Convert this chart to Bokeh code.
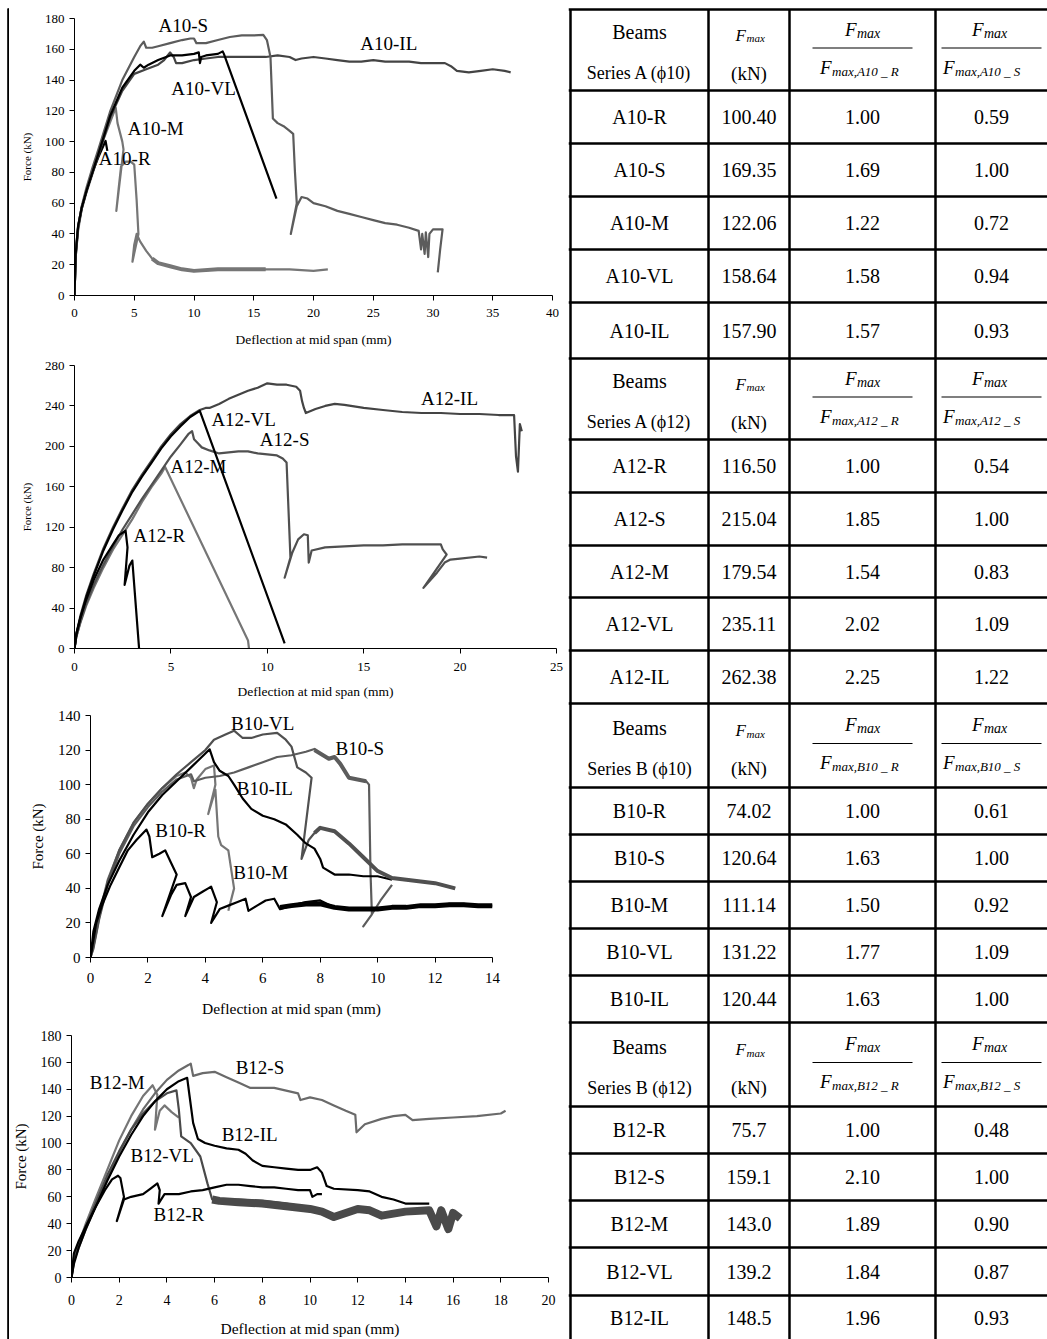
from bokeh.plotting import figure
from bokeh.layouts import row, column
from bokeh.models import Range1d, FixedTicker, Label, Spacer
from bokeh.embed import file_html
from bokeh.resources import INLINE
from bokeh.core.properties import value

FONT = "Liberation Serif"
BLACK = "#000000"
DARK = "#444444"
MID = "#5c5c5c"
LIGHT = "#767676"

# ---------------- chart data (deflection mm, force kN) ----------------
# A10 series
a10_r_x = [0, 0.1, 0.3, 0.6, 1.0, 1.5, 2.0, 2.4, 2.6, 2.75]
a10_r_y = [0, 28, 45, 57, 68, 80, 90, 97, 100.4, 94]
a10_m_x = [0, 0.1, 0.3, 0.6, 1.0, 1.5, 2.0, 2.5, 3.0, 3.3, 3.45, 3.6, 4.0, 4.1, 3.5, 3.7, 3.9, 4.3, 4.7, 5.0, 5.2, 5.35, 4.85, 5.0, 5.2, 5.5, 6.0, 6.5, 7.0, 8.0, 9.0, 10.0, 12.0, 14.0, 16.0, 18.0, 20.0, 21.2]
a10_m_y = [0, 25, 42, 56, 68, 80, 92, 103, 113, 119, 122.06, 112, 100, 95, 55, 70, 84, 87, 87, 85, 62, 40, 22, 33, 40, 35, 29, 24, 21, 19, 17, 16, 17, 17, 17, 17, 16, 17]
a10_m_band_x = [6.5, 7.0, 8.0, 9.0, 10.0, 12.0, 14.0, 16.0]
a10_m_band_y = [24, 21, 19, 17, 16, 17, 17, 17]
a10_s_x = [0, 0.1, 0.3, 0.6, 1.0, 1.5, 2.0, 3.0, 4.0, 5.0, 5.5, 5.8, 6.0, 6.5, 7.0, 8.0, 9.0, 9.7, 10.0, 10.2, 11.0, 12.0, 13.0, 14.0, 15.0, 15.8, 16.1, 16.4, 16.6, 17.0, 17.5, 18.0, 18.3, 18.45, 18.6, 18.1, 18.6, 19.0, 19.5, 20, 21, 22, 23, 24, 25, 26, 27, 28, 28.8, 29.0, 29.1, 29.3, 29.4, 29.6, 29.7, 30.0, 30.3, 30.8, 30.6, 30.4]
a10_s_y = [0, 25, 44, 58, 70, 83, 95, 120, 140, 155, 162, 165, 161, 161, 162, 164, 166, 167, 167, 164, 164, 166, 168, 169, 169, 169.35, 166, 155, 115, 112, 110, 107, 105, 80, 60, 40, 58, 64, 63, 60, 58, 55, 53, 51, 49, 47, 46, 44, 42, 30, 40, 27, 41, 25, 40, 43, 43, 43, 30, 15]
a10_vl_x = [0, 0.1, 0.3, 0.6, 1, 1.5, 2, 3, 4, 5, 5.5, 5.8, 6.2, 7, 8, 9, 10, 10.4, 10.5, 10.6, 11, 12, 12.4, 12.5, 16.9]
a10_vl_y = [0, 27, 45, 57, 68, 80, 92, 117, 135, 146, 150, 148, 150, 153, 156, 156, 157, 158, 151, 155, 156, 157, 158.64, 157, 63]
a10_il_x = [0, 0.1, 0.3, 0.6, 1, 1.5, 2, 3, 4, 5, 6, 7, 7.5, 8, 8.3, 8.5, 9, 10, 11, 12, 13, 14, 15, 16, 17, 18, 18.5, 19, 20, 21, 22, 23, 24, 25, 26, 27, 28, 29, 30, 31, 31.5, 32, 33, 34, 35, 36, 36.5]
a10_il_y = [0, 26, 44, 56, 67, 79, 91, 116, 133, 144, 147, 150, 153, 157.9, 155, 151, 151, 153, 154, 155, 155, 155, 155, 155, 156, 155, 153, 154, 155, 154, 153, 152, 152, 153, 152, 152, 152, 151, 151, 151, 149, 146, 145, 146, 147, 146, 145]
a10_lab_x = [9.1, 26.3, 10.8, 6.8, 4.2]
a10_lab_y = [175.5, 164, 134.5, 108.5, 89]
a10_lab_t = ["A10-S", "A10-IL", "A10-VL", "A10-M", "A10-R"]

# A12 series
a12_r_x = [0, 0.1, 0.3, 0.6, 1.0, 1.5, 2.0, 2.3, 2.65, 2.75, 2.6, 2.85, 3.0, 3.35]
a12_r_y = [0, 15, 30, 48, 68, 88, 103, 112, 116.5, 100, 63, 82, 87, 0]
a12_m_x = [0, 0.1, 0.3, 0.6, 1, 1.5, 2, 2.5, 3, 3.5, 4, 4.5, 4.7, 9.0, 9.05]
a12_m_y = [0, 12, 25, 42, 60, 80, 98, 113, 128, 145, 160, 173, 179.54, 8, 0]
a12_vl_x = [0, 0.1, 0.3, 0.6, 1, 1.5, 2, 2.5, 3, 3.5, 4, 4.5, 5, 5.5, 6, 6.5, 10.9]
a12_vl_y = [0, 14, 30, 50, 72, 97, 118, 137, 155, 170, 184, 198, 210, 220, 229, 235.11, 5]
a12_s_x = [0, 0.1, 0.3, 0.6, 1, 1.5, 2, 2.5, 3, 3.5, 4, 4.5, 5, 5.5, 5.9, 6.1, 6.2, 6.4, 6.6, 7, 7.5, 8, 8.5, 9, 9.5, 10, 10.5, 10.8, 11.0, 11.2, 10.9, 11.3, 11.6, 11.9, 12.1, 12.15, 12.3, 13, 14, 15, 16, 17, 18, 19, 19.1, 19.3, 18.1, 18.8, 19.2, 19.5, 20, 21, 21.4]
a12_s_y = [0, 12, 26, 44, 63, 83, 101, 118, 133, 148, 162, 176, 190, 202, 212, 215.04, 207, 203, 199, 196, 193, 194, 195, 195, 193, 192, 191, 188, 184, 90, 70, 95, 108, 113, 112, 85, 97, 100, 101, 102, 102, 103, 103, 103, 98, 93, 60, 75, 85, 88, 89, 91, 90]
a12_il_x = [0, 0.1, 0.3, 0.6, 1, 1.5, 2, 2.5, 3, 3.5, 4, 4.5, 5, 5.5, 6, 6.5, 6.8, 7, 7.5, 8, 8.5, 9, 9.5, 10, 10.5, 11, 11.5, 11.7, 11.8, 11.9, 12, 12.5, 13, 13.5, 14, 15, 16, 17, 18, 19, 20, 21, 22, 22.8, 22.9, 23.0, 23.1, 23.2]
a12_il_y = [0, 15, 32, 52, 74, 99, 120, 139, 157, 172, 186, 200, 212, 222, 230, 236, 238, 238, 242, 247, 251, 255, 258, 262.38, 261, 261, 259, 255, 245, 238, 233, 237, 240, 242, 241, 238, 236, 234, 233, 233, 232, 232, 231, 231, 190, 175, 222, 215]
a12_lab_x = [19.45, 8.77, 10.9, 6.43, 4.4]
a12_lab_y = [247, 226.6, 206.8, 180, 112]
a12_lab_t = ["A12-IL", "A12-VL", "A12-S", "A12-M", "A12-R"]

# B10 series
b10_r_x = [0, 0.1, 0.2, 0.4, 0.7, 1.0, 1.3, 1.6, 1.95, 2.05, 2.15, 2.4, 2.6, 2.8, 3.0, 2.5, 2.8, 3.0, 3.3, 3.5, 3.3, 3.6, 3.9, 4.1, 4.2, 4.4, 4.2, 4.5, 4.8, 5.1, 5.4, 5.5, 5.8, 6.1, 6.4, 6.6, 7, 7.5, 8, 8.5, 9, 9.5, 10, 10.5, 11, 11.5, 12, 12.5, 13, 13.5, 14]
b10_r_y = [0, 10, 20, 30, 42, 52, 62, 68, 74.02, 70, 58, 60, 62, 55, 48, 24, 36, 42, 43, 35, 24, 35, 38, 40, 41, 32, 20, 28, 30, 32, 34, 27, 30, 33, 34, 28, 30, 32, 33, 29, 28, 28, 28, 29, 29, 30, 30, 31, 31, 30, 30]
b10_r_band_x = [6.6, 7, 7.5, 8, 8.5, 9, 9.5, 10, 10.5, 11, 11.5, 12, 12.5, 13, 13.5, 14]
b10_r_band_y = [29, 30, 31, 31, 29, 28, 28, 28, 29, 29, 30, 30, 30.5, 30.5, 30, 30]
b10_m_x = [0, 0.1, 0.3, 0.6, 1, 1.5, 2, 2.5, 3, 3.3, 3.5, 3.6, 3.7, 4.0, 4.3, 4.35, 4.1, 4.35, 4.45, 4.55, 4.8, 5.0, 4.8]
b10_m_y = [0, 8, 25, 45, 62, 78, 89, 98, 105, 107, 104, 98, 103, 109, 111.14, 100, 83, 97, 70, 65, 62, 40, 27]
b10_s_x = [0, 0.1, 0.3, 0.6, 1, 1.5, 2, 2.5, 3, 3.5, 3.6, 4, 4.5, 5, 5.5, 6, 6.5, 7, 7.5, 7.8, 8, 8.3, 8.5, 8.7, 9, 9.3, 9.6, 9.7, 9.75, 9.8, 9.5, 9.8, 10.1, 10.5]
b10_s_y = [0, 5, 22, 42, 60, 76, 87, 96, 103, 106, 102, 104, 105, 107, 110, 113, 116, 117, 119, 120.64, 118, 115, 116, 112, 104, 103, 102, 100, 50, 25, 18, 25, 33, 42]
b10_s_band_x = [7.8, 8, 8.3, 8.5, 8.7, 9, 9.3, 9.6]
b10_s_band_y = [120, 118, 115, 116, 112, 104, 103, 102]
b10_vl_x = [0, 0.1, 0.3, 0.6, 1, 1.5, 2, 2.5, 3, 3.5, 4, 4.3, 4.7, 5, 5.3, 5.6, 6, 6.5, 6.8, 7, 7.2, 7.5, 7.7, 7.35, 7.6, 7.8, 8, 8.5, 9, 9.5, 10, 10.5, 11, 11.5, 12, 12.7]
b10_vl_y = [0, 6, 23, 44, 62, 78, 89, 98, 106, 113, 120, 126, 129, 131.22, 127, 127, 129, 130, 126, 122, 110, 107, 104, 57, 68, 72, 75, 73, 66, 58, 50, 46, 45, 44, 43, 40]
b10_vl_band_x = [7.8, 8, 8.5, 9, 9.5, 10, 10.5, 11, 11.5, 12, 12.7]
b10_vl_band_y = [72, 75, 73, 66, 58, 50, 46, 45, 44, 43, 40]
b10_il_x = [0, 0.1, 0.3, 0.6, 1, 1.5, 2, 2.5, 3, 3.5, 4, 4.15, 4.3, 4.5, 4.8, 5, 5.3, 5.6, 6, 6.4, 6.8, 7.2, 7.5, 7.8, 8, 8.1, 8.5, 9, 9.5, 10, 10.5]
b10_il_y = [0, 15, 28, 42, 56, 71, 84, 94, 102, 110, 118, 120.44, 113, 108, 105, 100, 92, 86, 82, 80, 77, 71, 66, 63, 57, 52, 48, 48, 47, 47, 45]
b10_lab_x = [6.0, 9.38, 6.07, 3.14, 5.93]
b10_lab_y = [135.5, 121, 97.8, 73.5, 49]
b10_lab_t = ["B10-VL", "B10-S", "B10-IL", "B10-R", "B10-M"]

# B12 series
b12_r_x = [0, 0.1, 0.3, 0.6, 1, 1.4, 1.7, 1.95, 2.05, 2.2, 1.9, 2.2, 2.5, 3, 3.3, 3.6, 3.7, 3.65, 3.9, 4.5, 5, 5.5, 6, 6.5, 7, 7.5, 8, 8.5, 9, 9.5, 10, 10.1, 10.3, 10.5]
b12_r_y = [0, 18, 27, 38, 52, 65, 73, 75.7, 74, 60, 42, 58, 60, 62, 66, 70, 65, 55, 62, 62, 64, 65, 67, 69, 69, 68, 67, 67, 66, 65, 65, 60, 62, 62]
b12_m_x = [0, 0.1, 0.3, 0.6, 1, 1.5, 2, 2.5, 3, 3.3, 3.4, 3.6, 3.5, 3.7, 3.9, 4.2, 4.5]
b12_m_y = [0, 15, 25, 40, 58, 80, 102, 120, 135, 141, 143, 136, 110, 124, 128, 123, 119]
b12_s_x = [0, 0.1, 0.3, 0.6, 1, 1.5, 2, 2.5, 3, 3.5, 4, 4.5, 4.9, 5.0, 5.1, 5.5, 6, 6.5, 7, 7.5, 8, 8.5, 9, 9.5, 9.6, 10, 10.5, 11, 11.5, 11.9, 11.95, 12.3, 13, 13.5, 14, 14.3, 15, 16, 17, 18, 18.2]
b12_s_y = [0, 12, 22, 36, 53, 74, 93, 110, 125, 137, 147, 154, 158, 159.1, 150, 152, 153, 149, 145, 141, 141, 141, 139, 137, 132, 134, 132, 128, 124, 121, 108, 114, 118, 120, 121, 117, 118, 119, 120, 122, 124]
b12_vl_x = [0, 0.1, 0.3, 0.6, 1, 1.5, 2, 2.5, 3, 3.5, 4, 4.4, 4.5, 4.6, 5, 5.4, 5.7, 5.9, 6.2, 7, 8, 9, 10, 10.5, 11, 11.5, 12, 12.5, 13, 14, 15, 15.3, 15.5, 15.8, 16, 16.3]
b12_vl_y = [0, 12, 24, 38, 55, 76, 94, 110, 122, 131, 137, 139.2, 125, 105, 100, 90, 70, 58, 57, 58, 57, 55, 52, 49, 45, 48, 52, 50, 46, 49, 51, 36, 52, 34, 50, 45]
b12_vl_band_x = [5.9, 6.2, 7, 8, 9, 10, 10.5, 11, 11.5, 12, 12.5, 13, 14, 15, 15.3, 15.5, 15.8, 16, 16.3]
b12_vl_band_y = [58, 57, 56, 55, 53, 51, 49, 45, 48, 51, 50, 46, 49, 50, 38, 50, 36, 48, 44]
b12_il_x = [0, 0.1, 0.3, 0.6, 1, 1.5, 2, 2.5, 3, 3.5, 4, 4.5, 4.85, 4.95, 5.1, 5.3, 5.6, 6, 6.5, 7, 7.3, 7.6, 8, 8.5, 9, 9.5, 10, 10.3, 10.5, 10.7, 11, 12, 12.5, 13, 13.5, 14, 15]
b12_il_y = [0, 10, 22, 36, 52, 72, 90, 106, 120, 131, 140, 146, 148.5, 135, 115, 103, 100, 98, 96, 95, 92, 87, 83, 82, 81, 80, 80, 82, 78, 68, 66, 65, 64, 60, 58, 55, 55]
b12_lab_x = [1.92, 7.9, 7.47, 3.8, 4.5]
b12_lab_y = [145, 156, 106.4, 91, 47]
b12_lab_t = ["B12-M", "B12-S", "B12-IL", "B12-VL", "B12-R"]

# ---------------- table data ----------------
series_titles = ["Series A (\u03d510)", "Series A (\u03d512)", "Series B (\u03d510)", "Series B (\u03d512)"]
ref_r_tags = ["max,A10 _ R", "max,A12 _ R", "max,B10 _ R", "max,B12 _ R"]
ref_s_tags = ["max,A10 _ S", "max,A12 _ S", "max,B10 _ S", "max,B12 _ S"]
beams_a10 = ["A10-R", "A10-S", "A10-M", "A10-VL", "A10-IL"]
fmax_a10 = ["100.40", "169.35", "122.06", "158.64", "157.90"]
ratio_r_a10 = ["1.00", "1.69", "1.22", "1.58", "1.57"]
ratio_s_a10 = ["0.59", "1.00", "0.72", "0.94", "0.93"]
beams_a12 = ["A12-R", "A12-S", "A12-M", "A12-VL", "A12-IL"]
fmax_a12 = ["116.50", "215.04", "179.54", "235.11", "262.38"]
ratio_r_a12 = ["1.00", "1.85", "1.54", "2.02", "2.25"]
ratio_s_a12 = ["0.54", "1.00", "0.83", "1.09", "1.22"]
beams_b10 = ["B10-R", "B10-S", "B10-M", "B10-VL", "B10-IL"]
fmax_b10 = ["74.02", "120.64", "111.14", "131.22", "120.44"]
ratio_r_b10 = ["1.00", "1.63", "1.50", "1.77", "1.63"]
ratio_s_b10 = ["0.61", "1.00", "0.92", "1.09", "1.00"]
beams_b12 = ["B12-R", "B12-S", "B12-M", "B12-VL", "B12-IL"]
fmax_b12 = ["75.7", "159.1", "143.0", "139.2", "148.5"]
ratio_r_b12 = ["1.00", "2.10", "1.89", "1.84", "1.96"]
ratio_s_b12 = ["0.48", "1.00", "0.90", "0.87", "0.93"]

# common borders for all charts (so that any frame alignment is harmless)
BL, BR = 60, 10
COLW = 559


def make_chart(width, height, xr, yr, xt, yt, bt, bb, tick_fs, lab_fs, ylab_fs, stand, curves, bands, labels):
    p = figure(width=width, height=height, x_range=Range1d(*xr), y_range=Range1d(*yr),
               output_backend="svg", toolbar_location=None,
               min_border_left=BL, min_border_right=BR, min_border_top=bt, min_border_bottom=bb)
    p.xgrid.visible = False
    p.ygrid.visible = False
    p.outline_line_color = None
    p.background_fill_color = "white"
    p.border_fill_color = "white"
    p.xaxis.ticker = FixedTicker(ticks=xt)
    p.yaxis.ticker = FixedTicker(ticks=yt)
    p.xaxis.axis_label = "Deflection at mid span (mm)"
    p.yaxis.axis_label = "Force (kN)"
    for ax in (p.xaxis, p.yaxis):
        ax.major_tick_out = 5
        ax.major_tick_in = 0
        ax.minor_tick_out = 0
        ax.minor_tick_in = 0
        ax.axis_line_color = "black"
        ax.major_tick_line_color = "black"
        ax.major_label_text_font = FONT
        ax.major_label_text_font_size = f"{tick_fs}px"
        ax.major_label_text_color = "black"
        ax.axis_label_text_font = FONT
        ax.axis_label_text_font_style = "normal"
        ax.axis_label_text_color = "black"
    p.xaxis.axis_label_text_font_size = f"{lab_fs}px"
    p.yaxis.axis_label_text_font_size = f"{ylab_fs}px"
    p.xaxis.major_label_standoff = stand[0]
    p.xaxis.axis_label_standoff = stand[1]
    p.yaxis.major_label_standoff = stand[2]
    p.yaxis.axis_label_standoff = stand[3]
    for (xs, ys, col, lw) in curves:
        p.line(xs, ys, line_color=col, line_width=lw, line_join="round")
    for (xs, ys, col, lw) in bands:
        p.line(xs, ys, line_color=col, line_width=lw, line_join="round")
    lx, ly, lt = labels
    for x, y, tx in zip(lx, ly, lt):
        p.add_layout(Label(x=x, y=y, text=tx, text_font=FONT, text_font_size="19px",
                           text_align="center", text_baseline="middle", text_color="black"))
    return p


def placed(fig_builder, frame_left, frame_right, height, **kw):
    # frame_left / frame_right are page pixel positions of the plot frame
    s = frame_left - BL - 9
    w = frame_right + BR - 9 - s
    rest = COLW - s - w
    p = fig_builder(width=w, height=height, **kw)
    kids = []
    if s > 0:
        kids.append(Spacer(width=s, height=height))
    kids.append(p)
    if rest > 0:
        kids.append(Spacer(width=rest, height=height))
    return row(*kids)


LW = 2.2
c1 = placed(make_chart, 74, 552, 347, xr=(0, 40), yr=(0, 180), xt=list(range(0, 41, 5)), yt=list(range(0, 181, 20)),
            bt=8, bb=62, tick_fs=13, lab_fs=13.5, ylab_fs=11, stand=(8, 12, 5, 9),
            curves=[(a10_m_x, a10_m_y, LIGHT, LW), (a10_r_x, a10_r_y, BLACK, LW),
                    (a10_il_x, a10_il_y, DARK, LW), (a10_s_x, a10_s_y, MID, LW),
                    (a10_vl_x, a10_vl_y, BLACK, LW)],
            bands=[(a10_m_band_x, a10_m_band_y, LIGHT, 4)],
            labels=(a10_lab_x, a10_lab_y, a10_lab_t))

c2 = placed(make_chart, 74, 556, 346, xr=(0, 25), yr=(0, 280), xt=list(range(0, 26, 5)), yt=list(range(0, 281, 40)),
            bt=8, bb=55, tick_fs=13, lab_fs=13.5, ylab_fs=11, stand=(9, 10, 5, 9),
            curves=[(a12_m_x, a12_m_y, LIGHT, LW), (a12_s_x, a12_s_y, "#505050", LW),
                    (a12_il_x, a12_il_y, DARK, LW), (a12_r_x, a12_r_y, BLACK, LW),
                    (a12_vl_x, a12_vl_y, BLACK, LW)],
            bands=[],
            labels=(a12_lab_x, a12_lab_y, a12_lab_t))

c3 = placed(make_chart, 86, 492, 319, xr=(0, 14), yr=(0, 140), xt=list(range(0, 15, 2)), yt=list(range(0, 141, 20)),
            bt=12, bb=65, tick_fs=15, lab_fs=15.5, ylab_fs=15, stand=(10, 14, 5, 9),
            curves=[(b10_m_x, b10_m_y, LIGHT, LW), (b10_s_x, b10_s_y, MID, LW),
                    (b10_vl_x, b10_vl_y, "#505050", LW), (b10_r_x, b10_r_y, BLACK, LW),
                    (b10_il_x, b10_il_y, BLACK, LW)],
            bands=[(b10_r_band_x, b10_r_band_y, BLACK, 5), (b10_s_band_x, b10_s_band_y, MID, 4),
                   (b10_vl_band_x, b10_vl_band_y, "#505050", 4)],
            labels=(b10_lab_x, b10_lab_y, b10_lab_t))

c4 = placed(make_chart, 69, 548, 317, xr=(0, 20), yr=(0, 180), xt=list(range(0, 21, 2)), yt=list(range(0, 181, 20)),
            bt=13, bb=57, tick_fs=14, lab_fs=15.5, ylab_fs=15, stand=(12, 12, 5, 9),
            curves=[(b12_m_x, b12_m_y, LIGHT, LW), (b12_s_x, b12_s_y, "#6a6a6a", LW),
                    (b12_vl_x, b12_vl_y, "#4a4a4a", LW), (b12_r_x, b12_r_y, BLACK, LW),
                    (b12_il_x, b12_il_y, BLACK, LW)],
            bands=[(b12_vl_band_x, b12_vl_band_y, "#4a4a4a", 8)],
            labels=(b12_lab_x, b12_lab_y, b12_lab_t))


def bar(w, h):
    b = figure(width=w, height=h, output_backend="svg", toolbar_location=None,
               x_axis_type=None, y_axis_type=None, min_border=0,
               x_range=Range1d(0, 1), y_range=Range1d(0, 1))
    b.background_fill_color = "black"
    b.border_fill_color = "black"
    b.outline_line_color = None
    b.grid.visible = False
    b.quad(left=[0], right=[1], bottom=[0], top=[1], fill_color="black", line_color="black")
    return b


# ---------------- table ----------------
TW, TH = 479, 1339
t = figure(width=TW, height=TH, x_range=Range1d(0, TW), y_range=Range1d(TH, 0),
           output_backend="svg", toolbar_location=None, x_axis_type=None, y_axis_type=None,
           min_border=0)
t.grid.visible = False
t.outline_line_color = None
t.background_fill_color = "white"
t.border_fill_color = "white"

col_lines = [2, 140, 221, 367]
col_centers = [71, 180.5, 294, 423]
rb = [9, 90, 143, 196, 249, 302, 358, 439, 492, 545, 597, 650, 703,
      787, 834, 881, 928, 975, 1022, 1106, 1153, 1200, 1247, 1295, 1339]

t.segment(x0=col_lines, y0=[9] * 4, x1=col_lines, y1=[TH] * 4, line_color="black", line_width=2.5)
hl = rb[:-1]
t.segment(x0=[0] * len(hl), y0=hl, x1=[TW] * len(hl), y1=hl, line_color="black", line_width=2.5)

blocks = [
    (beams_a10, fmax_a10, ratio_r_a10, ratio_s_a10),
    (beams_a12, fmax_a12, ratio_r_a12, ratio_s_a12),
    (beams_b10, fmax_b10, ratio_r_b10, ratio_s_b10),
    (beams_b12, fmax_b12, ratio_r_b12, ratio_s_b12),
]

TXT = dict(text_font=value(FONT), text_color="black")


def put(x, y, s, size, align="center", style="normal"):
    t.text(x=[x], y=[y], text=[s], text_font_size=f"{size}px", text_align=align,
           text_baseline="middle", text_font_style=style, **TXT)


for k, (beams, fm, rr, rs) in enumerate(blocks):
    top = rb[6 * k]
    bot = rb[6 * k + 1]
    hc = (top + bot) / 2
    put(col_centers[0], hc - 18, "Beams", 20)
    put(col_centers[0], hc + 23, series_titles[k], 18)
    cx = col_centers[1]
    put(cx - 3, hc - 15, "F", 17, align="right", style="italic")
    put(cx - 2.5, hc - 12, "max", 11, align="left", style="italic")
    put(cx, hc + 23, "(kN)", 19)
    for ci, tag, noff, doff in ((2, ref_r_tags[k], -6, -31), (3, ref_s_tags[k], -8, -37)):
        cx = col_centers[ci]
        put(cx + noff, hc - 21, "F", 19, align="right", style="italic")
        put(cx + noff + 0.5, hc - 17, "max", 14, align="left", style="italic")
        t.segment(x0=[cx - 50], y0=[hc - 2], x1=[cx + 50], y1=[hc - 2], line_color="black", line_width=1.2)
        put(cx + doff, hc + 17, "F", 19, align="right", style="italic")
        put(cx + doff + 0.5, hc + 21, tag, 13, align="left", style="italic")
    for i in range(5):
        y = (rb[6 * k + 1 + i] + rb[6 * k + 2 + i]) / 2
        put(col_centers[0], y, beams[i], 20)
        put(col_centers[1], y, fm[i], 20)
        put(col_centers[2], y, rr[i], 20)
        put(col_centers[3], y, rs[i], 20)

left_col = column(Spacer(width=COLW, height=8), bar(COLW, 2), c1, c2, c3, c4)
left_border = column(Spacer(width=2, height=8), bar(2, TH - 8))
layout = row(Spacer(width=7, height=TH), left_border, left_col, t)
open("out.html", "w").write(file_html(layout, INLINE))
